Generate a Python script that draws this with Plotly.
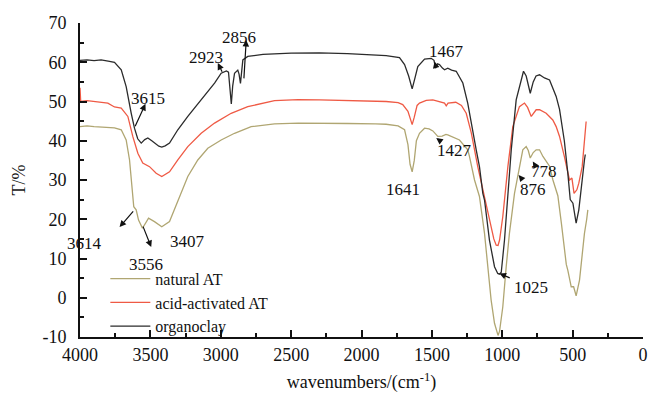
import plotly.graph_objects as go

# ---- data (wavenumber cm^-1, transmittance %) ----
nat_w = [4000, 3950, 3900, 3850, 3800, 3755, 3707, 3672, 3648, 3632, 3618, 3601, 3584, 3556,
         3513, 3471, 3419, 3364, 3329, 3281, 3234, 3163, 3092, 2997, 2902, 2784, 2618, 2450,
         2298, 2100, 1900, 1825, 1740, 1694, 1670, 1655, 1640, 1625, 1610, 1588, 1552, 1520,
         1493, 1458, 1427, 1400, 1387, 1350, 1304, 1245, 1233, 1197, 1162, 1126, 1103, 1079,
         1055, 1039, 1030, 1019, 1008, 996, 972, 949, 913, 889, 854, 830, 815, 801, 780, 759,
         735, 711, 664, 640, 605, 580, 565, 545, 534, 510, 493, 475, 451, 439, 427, 416, 400, 392]
nat_t = [43.6, 43.8, 43.6, 43.5, 43.4, 43.3, 42.8, 40.2, 35.1, 28.3, 23.2, 22.4, 19.8, 17.7,
         20.3, 19.4, 18.1, 19.4, 22.4, 26.6, 30.9, 35.1, 38.1, 40.2, 41.9, 43.6, 44.3, 44.5,
         44.5, 44.4, 44.3, 44.2, 43.8, 42.8, 39.0, 34.0, 32.1, 35.0, 40.0, 41.9, 43.2, 43.0,
         42.5, 41.1, 41.2, 41.6, 41.5, 41.0, 40.2, 37.7, 36.0, 30.0, 25.8, 16.4, 7.9, -0.6,
         -6.5, -8.7, -9.6, -8.5, -6.0, -2.3, 7.9, 16.4, 26.6, 30.9, 37.7, 38.5, 37.5, 35.6, 37.0, 37.7,
         37.7, 36.0, 33.5, 30.0, 26.0, 19.0, 14.0, 8.5, 7.0, 2.8, 2.8, 0.5, 4.5, 8.8, 13.0, 16.4, 20.0, 22.4]

acid_w = [4000, 3995, 3950, 3900, 3850, 3802, 3755, 3707, 3660, 3625, 3589, 3554, 3506, 3459,
          3419, 3364, 3305, 3234, 3139, 3044, 2926, 2808, 2618, 2450, 2298, 2100, 1900, 1825,
          1740, 1707, 1670, 1655, 1640, 1625, 1605, 1588, 1540, 1493, 1440, 1410, 1398, 1385,
          1330, 1290, 1256, 1220, 1174, 1138, 1091, 1060, 1043, 1030, 1019, 996, 960, 925, 878,
          842, 820, 794, 759, 735, 688, 641, 617, 593, 559, 522, 505, 490, 470, 456, 432, 416, 404]
acid_t = [53.5, 50.0, 50.2, 50.0, 49.8, 49.6, 48.6, 48.3, 46.2, 41.1, 36.8, 34.3, 33.4, 31.7,
          30.9, 32.1, 35.1, 38.5, 41.9, 44.5, 47.0, 48.7, 50.2, 50.5, 50.4, 50.2, 50.1, 50.0,
          49.7, 49.2, 47.5, 45.5, 44.1, 46.0, 49.0, 49.6, 50.3, 50.4, 50.0, 49.6, 48.9, 49.6,
          49.8, 49.0, 47.0, 42.0, 33.4, 27.5, 19.8, 15.0, 13.4, 13.3, 14.7, 20.7, 33.4, 43.6, 48.7,
          49.6, 48.5, 46.2, 47.9, 47.9, 47.0, 45.3, 43.6, 41.1, 36.0, 30.0, 30.5, 26.6, 27.5, 29.2, 33.4, 40.2, 44.9]

org_w = [4000, 3950, 3900, 3850, 3800, 3755, 3707, 3672, 3636, 3613, 3590, 3565, 3540, 3518,
         3490, 3471, 3440, 3419, 3395, 3364, 3305, 3234, 3139, 3044, 2997, 2960, 2945, 2935,
         2925, 2915, 2902, 2879, 2870, 2860, 2850, 2843, 2808, 2700, 2500, 2300, 2100, 1900,
         1825, 1730, 1694, 1665, 1640, 1620, 1600, 1552, 1505, 1485, 1474, 1460, 1446, 1425,
         1410, 1387, 1360, 1327, 1280, 1245, 1209, 1185, 1162, 1138, 1126, 1091, 1055, 1032,
         1020, 1007, 984, 960, 936, 901, 870, 849, 830, 801, 780, 760, 735, 700, 664, 617, 593,
         570, 559, 534, 517, 498, 475, 456, 439, 416, 410]
org_t = [60.5, 60.6, 60.4, 60.6, 60.3, 60.0, 58.1, 53.8, 47.0, 43.2, 40.5, 39.4, 40.3, 40.7,
         40.0, 39.4, 38.6, 38.4, 38.7, 39.4, 42.8, 46.2, 50.4, 54.7, 57.2, 57.8, 57.5, 52.0,
         49.4, 54.0, 57.2, 58.0, 57.0, 54.6, 58.0, 60.6, 61.5, 62.0, 62.3, 62.4, 62.2, 61.9,
         61.7, 61.2, 59.4, 56.5, 53.2, 56.0, 58.9, 60.8, 61.0, 60.5, 58.5, 59.6, 59.4, 58.5,
         58.1, 58.5, 58.0, 57.7, 54.7, 49.5, 42.0, 37.7, 33.4, 26.6, 24.9, 14.7, 7.9, 6.2,
         6.0, 6.5, 14.7, 26.6, 37.7, 50.4, 55.0, 57.7, 56.5, 52.1, 55.0, 56.5, 56.8, 56.0, 55.5, 51.3, 48.0,
         42.0, 40.0, 31.7, 25.0, 24.1, 19.0, 22.4, 28.3, 35.1, 36.5]

series_names = ["natural AT", "acid-activated AT", "organoclay"]
series_colors = ["#b0a672", "#ef5a45", "#2b2b2b"]

x_ticks = [4000, 3500, 3000, 2500, 2000, 1500, 1000, 500, 0]
y_ticks = [-10, 0, 10, 20, 30, 40, 50, 60, 70]

# peak labels: (text, x, y)
labels = [("3615", 3520, 50.7), ("2923", 3103, 61.1), ("2856", 2867, 66.4),
          ("1467", 1398, 62.8), ("1427", 1339, 37.4), ("1641", 1707, 27.5),
          ("876", 783, 27.7), ("778", 700, 32.1), ("1025", 794, 2.6),
          ("3407", 3234, 14.3), ("3556", 3530, 8.6), ("3614", 3968, 13.9)]
# arrows: (tail x, tail y, head x, head y)
arrows = [(3613, 43.3, 3535, 49.4), (2985, 57.2, 3021, 59.8), (2836, 55.5, 2819, 65.7),
          (1469, 58.5, 1481, 60.2), (1424, 39.5, 1469, 40.7), (854, 30.0, 884, 31.3),
          (764, 33.6, 783, 34.7), (936, 4.9, 1020, 6.2), (3556, 18.5, 3494, 12.9),
          (3613, 22.4, 3719, 18.0)]

FONT = "Liberation Serif, Times New Roman, serif"

fig = go.Figure()
for w, t, name, color in [(nat_w, nat_t, series_names[0], series_colors[0]),
                          (acid_w, acid_t, series_names[1], series_colors[1]),
                          (org_w, org_t, series_names[2], series_colors[2])]:
    fig.add_trace(go.Scatter(x=w, y=t, mode="lines", name=name,
                             line=dict(color=color, width=1.3)))

for text, x, y in labels:
    fig.add_annotation(x=x, y=y, text=text, showarrow=False,
                       font=dict(family=FONT, size=17, color="#111"))
for tx, ty, hx, hy in arrows:
    fig.add_annotation(x=hx, y=hy, ax=tx, ay=ty, axref="x", ayref="y", xref="x", yref="y",
                       text="", showarrow=True, arrowhead=2, arrowsize=1.1, arrowwidth=1.2,
                       arrowcolor="#111")

fig.update_layout(
    width=648, height=397,
    margin=dict(l=80, r=5, t=23, b=60),
    template="none",
    paper_bgcolor="white", plot_bgcolor="white",
    font=dict(family=FONT, size=17, color="#111"),
    showlegend=True,
    legend=dict(x=0.045, y=0.24, xanchor="left", yanchor="top", bgcolor="rgba(0,0,0,0)",
                font=dict(family=FONT, size=16, color="#111"), tracegroupgap=0,
                itemwidth=40, traceorder="normal", borderwidth=0),
    xaxis=dict(range=[4000, 0], tickvals=x_ticks, ticktext=[str(v) for v in x_ticks],
               showgrid=False, zeroline=False, showline=True, linewidth=2, linecolor="#111",
               ticks="inside", ticklen=7, tickwidth=2, tickcolor="#111",
               minor=dict(dtick=250, ticks="inside", ticklen=4, tickwidth=1.5, tickcolor="#111", showgrid=False),
               tickfont=dict(family=FONT, size=18),
               title=dict(text="wavenumbers/(cm<sup>-1</sup>)", font=dict(family=FONT, size=18), standoff=12),
               automargin=False, mirror=False),
    yaxis=dict(range=[-10, 70], tickvals=y_ticks, ticktext=[str(v) for v in y_ticks],
               showgrid=False, zeroline=False, showline=True, linewidth=2, linecolor="#111",
               ticks="inside", ticklen=7, tickwidth=2, tickcolor="#111",
               minor=dict(dtick=5, ticks="inside", ticklen=4, tickwidth=1.5, tickcolor="#111", showgrid=False),
               tickfont=dict(family=FONT, size=18), ticklabelstandoff=8,
               title=dict(text="T/%", font=dict(family=FONT, size=18), standoff=12),
               automargin=False, mirror=False),
)

fig.write_html("out.html")
